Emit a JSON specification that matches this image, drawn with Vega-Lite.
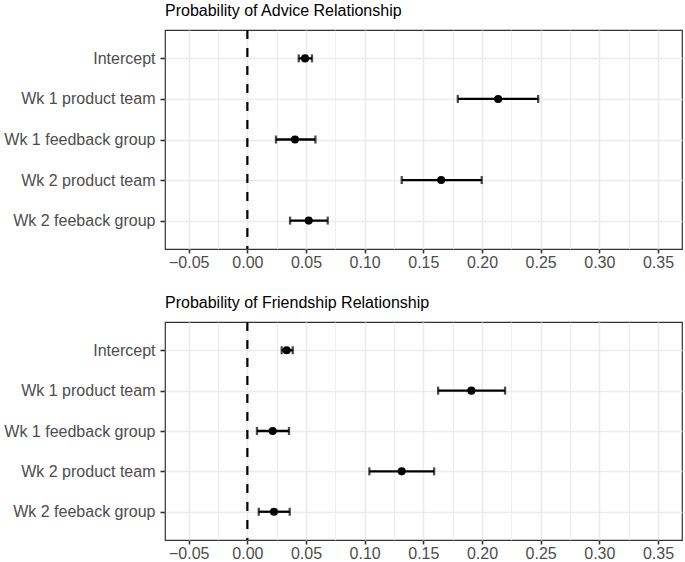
{
  "$schema": "https://vega.github.io/schema/vega-lite/v6.json",
  "background": "white",
  "padding": {"left": 0, "top": 2, "right": 4, "bottom": 0},
  "config": {
    "font": "Liberation Sans",
    "view": {"stroke": "#333333", "strokeWidth": 1.2},
    "axis": {
      "labelFont": "Liberation Sans",
      "labelFontSize": 16,
      "labelColor": "#4d4d4d",
      "tickColor": "#333333",
      "tickSize": 4,
      "tickWidth": 1.6,
      "domain": false,
      "gridColor": "#ebebeb",
      "title": null
    },
    "title": {"font": "Liberation Sans", "fontSize": 16, "fontWeight": "normal", "color": "#000000", "anchor": "start", "frame": "group", "offset": 10},
    "concat": {"spacing": 20}
  },
  "datasets": {
    "coef": [
      {"model": "Advice", "term": "Intercept", "est": 0.0492, "lo": 0.0438, "hi": 0.0551},
      {"model": "Advice", "term": "Wk 1 product team", "est": 0.2138, "lo": 0.1794, "hi": 0.2479},
      {"model": "Advice", "term": "Wk 1 feedback group", "est": 0.0406, "lo": 0.0244, "hi": 0.058},
      {"model": "Advice", "term": "Wk 2 product team", "est": 0.1652, "lo": 0.1316, "hi": 0.1998},
      {"model": "Advice", "term": "Wk 2 feeback group", "est": 0.0523, "lo": 0.0364, "hi": 0.0685},
      {"model": "Friendship", "term": "Intercept", "est": 0.0335, "lo": 0.0293, "hi": 0.0387},
      {"model": "Friendship", "term": "Wk 1 product team", "est": 0.191, "lo": 0.1626, "hi": 0.2197},
      {"model": "Friendship", "term": "Wk 1 feedback group", "est": 0.0216, "lo": 0.0082, "hi": 0.0355},
      {"model": "Friendship", "term": "Wk 2 product team", "est": 0.1316, "lo": 0.104, "hi": 0.1592},
      {"model": "Friendship", "term": "Wk 2 feeback group", "est": 0.0227, "lo": 0.0097, "hi": 0.0361}
    ]
  },
  "vconcat": [
    {
      "title": "Probability of Advice Relationship",
      "width": 517,
      "height": 219,
      "resolve": {"axis": {"x": "independent"}},
      "layer": [
        {
          "data": {"name": "coef"},
          "transform": [{"filter": "datum.model == 'Advice'"}],
          "mark": {"type": "point", "opacity": 0},
          "encoding": {
            "x": {"field": "est", "type": "quantitative", "scale": {"domain": [-0.0702, 0.3705], "nice": false, "zero": false},
              "axis": {"orient": "bottom", "values": [-0.025, 0.025, 0.075, 0.125, 0.175, 0.225, 0.275, 0.325], "grid": true, "gridWidth": 0.8, "labels": false, "ticks": false, "domain": false, "minExtent": 0, "maxExtent": 0}},
            "y": {"field": "term", "type": "nominal", "sort": ["Intercept", "Wk 1 product team", "Wk 1 feedback group", "Wk 2 product team", "Wk 2 feeback group"], "scale": {"type": "point", "padding": 0.7},
              "axis": {"grid": true, "gridWidth": 1.6, "minExtent": 164, "maxExtent": 164, "labelPadding": 5, "tickSize": 5}}
          }
        },
        {
          "data": {"name": "coef"},
          "transform": [{"filter": "datum.model == 'Advice'"}],
          "mark": {"type": "rule", "color": "black", "strokeWidth": 2.3},
          "encoding": {
            "x": {"field": "lo", "type": "quantitative", "scale": {"domain": [-0.0702, 0.3705], "nice": false, "zero": false},
              "axis": {"orient": "bottom", "values": [-0.05, 0, 0.05, 0.1, 0.15, 0.2, 0.25, 0.3, 0.35], "format": ".2f", "grid": true, "gridWidth": 1.6, "minExtent": 24, "maxExtent": 24, "labelPadding": 1}},
            "x2": {"field": "hi"},
            "y": {"field": "term", "type": "nominal", "sort": ["Intercept", "Wk 1 product team", "Wk 1 feedback group", "Wk 2 product team", "Wk 2 feeback group"], "scale": {"type": "point", "padding": 0.7},
              "axis": {"grid": true, "gridWidth": 1.6, "minExtent": 164, "maxExtent": 164, "labelPadding": 5, "tickSize": 5}}
          }
        },
        {
          "data": {"values": [{"ref": 0}]},
          "mark": {"type": "rule", "color": "black", "strokeWidth": 2.2, "strokeDash": [9, 9]},
          "encoding": {
            "x": {"field": "ref", "type": "quantitative", "scale": {"domain": [-0.0702, 0.3705], "nice": false, "zero": false}, "axis": null}
          }
        },
        {
          "data": {"name": "coef"},
          "transform": [{"filter": "datum.model == 'Advice'"}],
          "mark": {"type": "tick", "color": "black", "size": 8, "thickness": 2.3},
          "encoding": {
            "x": {"field": "lo", "type": "quantitative", "scale": {"domain": [-0.0702, 0.3705], "nice": false, "zero": false}, "axis": null},
            "y": {"field": "term", "type": "nominal", "sort": ["Intercept", "Wk 1 product team", "Wk 1 feedback group", "Wk 2 product team", "Wk 2 feeback group"], "scale": {"type": "point", "padding": 0.7},
              "axis": {"grid": true, "gridWidth": 1.6, "minExtent": 164, "maxExtent": 164, "labelPadding": 5, "tickSize": 5}}
          }
        },
        {
          "data": {"name": "coef"},
          "transform": [{"filter": "datum.model == 'Advice'"}],
          "mark": {"type": "tick", "color": "black", "size": 8, "thickness": 2.3},
          "encoding": {
            "x": {"field": "hi", "type": "quantitative", "scale": {"domain": [-0.0702, 0.3705], "nice": false, "zero": false}, "axis": null},
            "y": {"field": "term", "type": "nominal", "sort": ["Intercept", "Wk 1 product team", "Wk 1 feedback group", "Wk 2 product team", "Wk 2 feeback group"], "scale": {"type": "point", "padding": 0.7},
              "axis": {"grid": true, "gridWidth": 1.6, "minExtent": 164, "maxExtent": 164, "labelPadding": 5, "tickSize": 5}}
          }
        },
        {
          "data": {"name": "coef"},
          "transform": [{"filter": "datum.model == 'Advice'"}],
          "mark": {"type": "point", "filled": true, "color": "black", "opacity": 1, "size": 65},
          "encoding": {
            "x": {"field": "est", "type": "quantitative", "scale": {"domain": [-0.0702, 0.3705], "nice": false, "zero": false}, "axis": null},
            "y": {"field": "term", "type": "nominal", "sort": ["Intercept", "Wk 1 product team", "Wk 1 feedback group", "Wk 2 product team", "Wk 2 feeback group"], "scale": {"type": "point", "padding": 0.7},
              "axis": {"grid": true, "gridWidth": 1.6, "minExtent": 164, "maxExtent": 164, "labelPadding": 5, "tickSize": 5}}
          }
        }
      ]
    },
    {
      "title": "Probability of Friendship Relationship",
      "width": 517,
      "height": 218,
      "resolve": {"axis": {"x": "independent"}},
      "layer": [
        {
          "data": {"name": "coef"},
          "transform": [{"filter": "datum.model == 'Friendship'"}],
          "mark": {"type": "point", "opacity": 0},
          "encoding": {
            "x": {"field": "est", "type": "quantitative", "scale": {"domain": [-0.0702, 0.3705], "nice": false, "zero": false},
              "axis": {"orient": "bottom", "values": [-0.025, 0.025, 0.075, 0.125, 0.175, 0.225, 0.275, 0.325], "grid": true, "gridWidth": 0.8, "labels": false, "ticks": false, "domain": false, "minExtent": 0, "maxExtent": 0}},
            "y": {"field": "term", "type": "nominal", "sort": ["Intercept", "Wk 1 product team", "Wk 1 feedback group", "Wk 2 product team", "Wk 2 feeback group"], "scale": {"type": "point", "padding": 0.7},
              "axis": {"grid": true, "gridWidth": 1.6, "minExtent": 164, "maxExtent": 164, "labelPadding": 5, "tickSize": 5}}
          }
        },
        {
          "data": {"name": "coef"},
          "transform": [{"filter": "datum.model == 'Friendship'"}],
          "mark": {"type": "rule", "color": "black", "strokeWidth": 2.3},
          "encoding": {
            "x": {"field": "lo", "type": "quantitative", "scale": {"domain": [-0.0702, 0.3705], "nice": false, "zero": false},
              "axis": {"orient": "bottom", "values": [-0.05, 0, 0.05, 0.1, 0.15, 0.2, 0.25, 0.3, 0.35], "format": ".2f", "grid": true, "gridWidth": 1.6, "minExtent": 22, "maxExtent": 22, "labelPadding": 1}},
            "x2": {"field": "hi"},
            "y": {"field": "term", "type": "nominal", "sort": ["Intercept", "Wk 1 product team", "Wk 1 feedback group", "Wk 2 product team", "Wk 2 feeback group"], "scale": {"type": "point", "padding": 0.7},
              "axis": {"grid": true, "gridWidth": 1.6, "minExtent": 164, "maxExtent": 164, "labelPadding": 5, "tickSize": 5}}
          }
        },
        {
          "data": {"values": [{"ref": 0}]},
          "mark": {"type": "rule", "color": "black", "strokeWidth": 2.2, "strokeDash": [9, 9]},
          "encoding": {
            "x": {"field": "ref", "type": "quantitative", "scale": {"domain": [-0.0702, 0.3705], "nice": false, "zero": false}, "axis": null}
          }
        },
        {
          "data": {"name": "coef"},
          "transform": [{"filter": "datum.model == 'Friendship'"}],
          "mark": {"type": "tick", "color": "black", "size": 8, "thickness": 2.3},
          "encoding": {
            "x": {"field": "lo", "type": "quantitative", "scale": {"domain": [-0.0702, 0.3705], "nice": false, "zero": false}, "axis": null},
            "y": {"field": "term", "type": "nominal", "sort": ["Intercept", "Wk 1 product team", "Wk 1 feedback group", "Wk 2 product team", "Wk 2 feeback group"], "scale": {"type": "point", "padding": 0.7},
              "axis": {"grid": true, "gridWidth": 1.6, "minExtent": 164, "maxExtent": 164, "labelPadding": 5, "tickSize": 5}}
          }
        },
        {
          "data": {"name": "coef"},
          "transform": [{"filter": "datum.model == 'Friendship'"}],
          "mark": {"type": "tick", "color": "black", "size": 8, "thickness": 2.3},
          "encoding": {
            "x": {"field": "hi", "type": "quantitative", "scale": {"domain": [-0.0702, 0.3705], "nice": false, "zero": false}, "axis": null},
            "y": {"field": "term", "type": "nominal", "sort": ["Intercept", "Wk 1 product team", "Wk 1 feedback group", "Wk 2 product team", "Wk 2 feeback group"], "scale": {"type": "point", "padding": 0.7},
              "axis": {"grid": true, "gridWidth": 1.6, "minExtent": 164, "maxExtent": 164, "labelPadding": 5, "tickSize": 5}}
          }
        },
        {
          "data": {"name": "coef"},
          "transform": [{"filter": "datum.model == 'Friendship'"}],
          "mark": {"type": "point", "filled": true, "color": "black", "opacity": 1, "size": 65},
          "encoding": {
            "x": {"field": "est", "type": "quantitative", "scale": {"domain": [-0.0702, 0.3705], "nice": false, "zero": false}, "axis": null},
            "y": {"field": "term", "type": "nominal", "sort": ["Intercept", "Wk 1 product team", "Wk 1 feedback group", "Wk 2 product team", "Wk 2 feeback group"], "scale": {"type": "point", "padding": 0.7},
              "axis": {"grid": true, "gridWidth": 1.6, "minExtent": 164, "maxExtent": 164, "labelPadding": 5, "tickSize": 5}}
          }
        }
      ]
    }
  ]
}
